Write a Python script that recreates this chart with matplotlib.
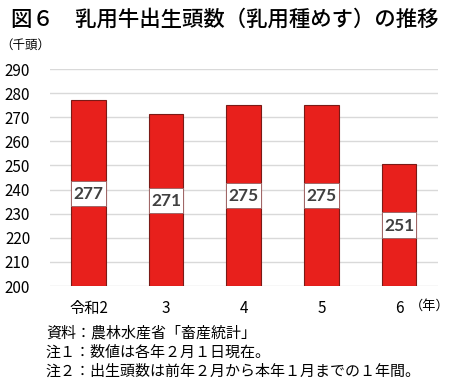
import matplotlib
matplotlib.use("Agg")
import matplotlib.pyplot as plt

plt.rcParams['font.family'] = ['Noto Sans CJK JP', 'DejaVu Sans']

years = ["令和2", "3", "4", "5", "6"]
births = [277.1, 271.2, 274.9, 275.2, 250.6]
yticks = list(range(200, 291, 10))

bar_color = "#e8201c"
edge_color = "#7a1a16"
grid_color = "#d9d9d9"

fig = plt.figure(figsize=(4.5, 3.84), dpi=100)
ax = fig.add_axes([0.1104, 0.2552, 0.8626, 0.5651])

x = list(range(len(years)))
ax.bar(x, [b - 200 for b in births], bottom=200, width=0.445,
       color=bar_color, edgecolor=edge_color, linewidth=0.8, zorder=3)

# white label boxes centred in each bar
box_h = 10.4
mids = [(200 + b) / 2 for b in births]
ax.bar(x, box_h, bottom=[m - box_h / 2 for m in mids], width=0.445,
       color="white", edgecolor="#a06666", linewidth=0.7, zorder=4)
for xi, m, b in zip(x, mids, births):
    ax.text(xi, m - 0.3, f"{b:.0f}", ha="center", va="center",
            fontsize=12.5, fontweight="bold", color="#404040",
            family="Lato", zorder=5)

ax.set_xlim(-0.5, len(years) - 0.5)
ax.set_ylim(200, 290)
ax.set_yticks(yticks)
ax.set_xticks(x)
ax.set_xticklabels(years, fontsize=11)
ax.tick_params(axis="y", labelsize=11, length=0, pad=14)
ax.tick_params(axis="x", length=0, pad=10)
ax.grid(axis="y", color=grid_color, linewidth=1, zorder=0)
for s in ax.spines.values():
    s.set_visible(False)

fig.text(0.025, 0.95, "図６　乳用牛出生頭数（乳用種めす）の推移",
         fontsize=15.4, va="center", ha="left", fontweight="medium")
fig.text(0.0, 0.883, "（千頭）", fontsize=9, va="center", ha="left")
fig.text(0.998, 0.203, "（年）", fontsize=9.5, va="center", ha="right")

notes = ["資料：農林水産省「畜産統計」",
         "注１：数値は各年２月１日現在。",
         "注２：出生頭数は前年２月から本年１月までの１年間。"]
for i, n in enumerate(notes):
    fig.text(0.102, 0.133 - i * 0.051, n, fontsize=10.8, va="center", ha="left")

fig.savefig("out.png", dpi=100)
